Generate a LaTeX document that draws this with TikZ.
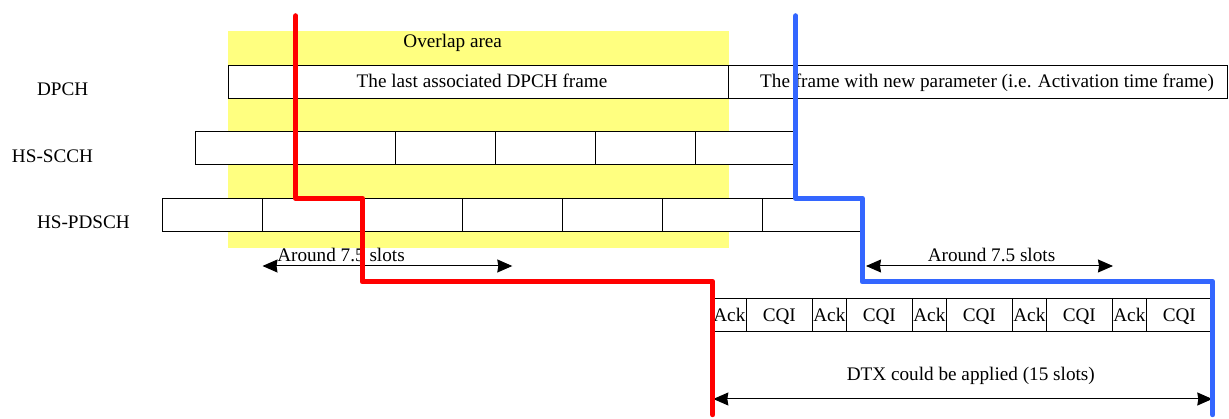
\documentclass[tikz,border=0pt]{standalone}
\usepackage{fontspec}
\setmainfont{Liberation Serif}
\usetikzlibrary{arrows.meta}
\definecolor{ovl}{RGB}{255,255,128}
\definecolor{redline}{RGB}{255,0,0}
\definecolor{blueline}{RGB}{51,102,255}
\begin{document}
\begin{tikzpicture}[x=1pt,y=-1pt,
  every node/.style={font=\fontsize{19.2}{22}\selectfont, inner sep=0pt, outer sep=0pt},
  framebox/.style={draw=black, line width=1pt, fill=white, anchor=north west,
    minimum height=32.8pt, text height=14.6pt, text depth=2pt},
  txt/.style={anchor=base},
  rowlabel/.style={anchor=base west},
  timeline/.style={line width=5.5pt, line join=round, line cap=round},
  dimarrow/.style={line width=1pt,
    {Stealth[length=15pt,width=13pt,inset=1pt]}-{Stealth[length=15pt,width=13pt,inset=1pt]}},
]
\useasboundingbox (0,0) rectangle (1229,419);

% overlap area
\fill[ovl] (228,31) rectangle (729,248.3);
\node[txt] (ovltxt) at (452.7,48) {Overlap area};

% row labels
\node[rowlabel] (lbldpch) at (37,95.2) {DPCH};
\node[rowlabel] (lblscch) at (12,162.2) {HS-SCCH};
\node[rowlabel] (lblpdsch) at (37,228.9) {HS-PDSCH};

% DPCH frames
\node[framebox, minimum width=500pt] (dpchA) at (228.7,65.7) {};
\node[txt] (dpchAtxt) at (482,88) {The last associated DPCH frame};
\node[framebox, minimum width=499pt] (dpchB) at (728.7,65.7) {};
\node[txt] (dpchBtxt) at (987,88) {The frame with new parameter (i.e. Activation time frame)};

% HS-SCCH subframes
\foreach \i in {0,...,5}
  \node[framebox, minimum width=100pt] (scch\i) at (195.7+100*\i,131.7) {};

% HS-PDSCH subframes
\foreach \i in {0,...,6}
  \node[framebox, minimum width=100pt] (pdsch\i) at (162.3+100*\i,198.3) {};

% HS-DPCCH Ack / CQI
\foreach \k in {0,...,4} {
  \node[framebox, minimum width=33.3pt] (ack\k) at (712.7+100*\k,299) {Ack};
  \node[framebox, minimum width=66.7pt] (cqi\k) at (746+100*\k,299) {CQI};
}

% dimension arrows
\coordinate (a1l) at (262.5,266);
\coordinate (a1r) at (512.3,266);
\draw[dimarrow] (a1l) -- (a1r);
\node[txt] (a1txt) at (341,262) {Around 7.5 slots};

\coordinate (a2l) at (866,266);
\coordinate (a2r) at (1113,266);
\draw[dimarrow] (a2l) -- (a2r);
\node[txt] (a2txt) at (991.5,262) {Around 7.5 slots};

\coordinate (a3l) at (713.3,399);
\coordinate (a3r) at (1212.3,399);
\draw[dimarrow] (a3l) -- (a3r);
\node[txt] (a3txt) at (970.8,380.5) {DTX could be applied (15 slots)};

% timing lines
\coordinate (r0) at (295.7,16);
\coordinate (r1) at (295.7,198.3);
\coordinate (r2) at (362.3,198.3);
\coordinate (r3) at (362.3,281.7);
\coordinate (r4) at (712.7,281.7);
\coordinate (r5) at (712.7,414.5);
\draw[timeline, redline] (r0) -- (r1) -- (r2) -- (r3) -- (r4) -- (r5);

\coordinate (b0) at (795.7,16);
\coordinate (b1) at (795.7,198.3);
\coordinate (b2) at (862.3,198.3);
\coordinate (b3) at (862.3,281.7);
\coordinate (b4) at (1212.7,281.7);
\coordinate (b5) at (1212.7,414.5);
\draw[timeline, blueline] (b0) -- (b1) -- (b2) -- (b3) -- (b4) -- (b5);
\end{tikzpicture}
\end{document}
